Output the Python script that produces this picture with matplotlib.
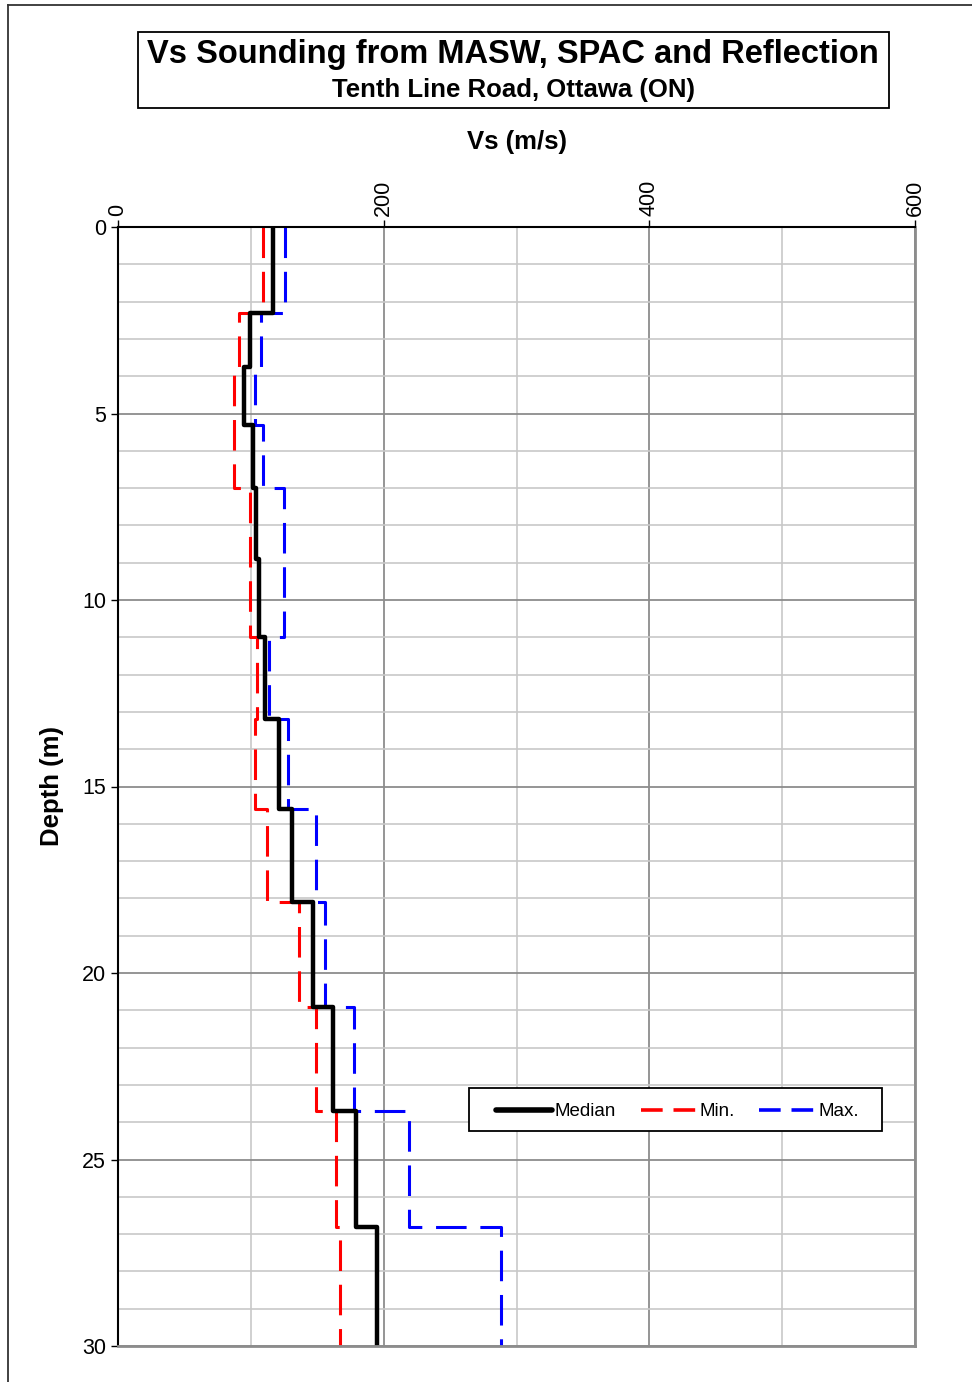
import matplotlib
matplotlib.use('Agg')
import matplotlib.pyplot as plt
import numpy as np
from matplotlib.lines import Line2D
from matplotlib.patches import Rectangle

plt.rcParams['font.family'] = ['Liberation Sans', 'DejaVu Sans']

# layer boundaries (m) and Vs per layer (m/s)
depth_bounds = [0, 2.3, 3.75, 5.3, 7.0, 8.9, 11.0, 13.2, 15.6, 18.1, 20.9, 23.7, 26.8, 30]
vs_median = [117, 99, 95, 102, 104, 106, 111, 121, 131, 147, 162, 179, 195]
vs_min = [109, 91, 87, 87, 99, 99, 105, 103, 112, 136, 149, 164, 167]
vs_max = [126, 108, 103, 109, 125, 125, 114, 128, 149, 156, 178, 219, 288]

x_ticks = [0, 200, 400, 600]
y_ticks = [0, 5, 10, 15, 20, 25, 30]


def profile(vs):
    # vertical step profile: constant Vs over each layer
    d = np.array(depth_bounds)
    x = np.repeat(vs, 2)
    y = np.column_stack([d[:-1], d[1:]]).ravel()
    return x, y


W, H = 972, 1382
fig = plt.figure(figsize=(W / 100, H / 100), dpi=100)
ax = fig.add_axes([118 / W, 1 - 1346 / H, (915 - 118) / W, (1346 - 227) / H])

ax.set_xlim(0, 600)
ax.set_ylim(30, 0)
ax.xaxis.tick_top()
ax.xaxis.set_label_position('top')
ax.set_xticks(x_ticks)
ax.set_xticklabels([str(t) for t in x_ticks], rotation=90)
ax.set_xticks(np.arange(0, 601, 100), minor=True)
ax.set_yticks(y_ticks)
ax.set_yticks(np.arange(0, 31, 1), minor=True)
ax.tick_params(axis='both', which='major', labelsize=15.5, length=5, width=1, direction='out', color='black')
ax.tick_params(axis='both', which='minor', length=0)
ax.tick_params(axis='x', pad=3)

ax.grid(which='major', color='#8c8c8c', linewidth=1.3)
ax.grid(which='minor', color='#c8c8c8', linewidth=1.2)
ax.set_axisbelow(True)

for s in ['left', 'top']:
    ax.spines[s].set_color('black')
    ax.spines[s].set_linewidth(1.5)
for s in ['right', 'bottom']:
    ax.spines[s].set_color('#8c8c8c')
    ax.spines[s].set_linewidth(2)

x, y = profile(vs_min)
ax.plot(x, y, color='red', lw=2.2, dashes=(10, 4.5), label='Min.')
x, y = profile(vs_max)
ax.plot(x, y, color='blue', lw=2.2, dashes=(10, 4.5), label='Max.')
x, y = profile(vs_median)
ax.plot(x, y, color='black', lw=3.2, solid_capstyle='butt', label='Median')

ax.set_xlabel('Vs (m/s)', fontsize=18.5, fontweight='bold', labelpad=22)
ax.set_ylabel('Depth (m)', fontsize=18.5, fontweight='bold', labelpad=13)

# legend: frame drawn separately so the margins match
lx0, lx1, ly0, ly1 = 469, 882, 1088, 1131
fig.patches.append(Rectangle((lx0 / W, 1 - ly1 / H), (lx1 - lx0) / W, (ly1 - ly0) / H,
                             transform=fig.transFigure, facecolor='white', edgecolor='black',
                             lw=1.3, zorder=5))
handles = [
    Line2D([], [], color='black', lw=4, solid_capstyle='round'),
    Line2D([], [], color='red', lw=2.6, dashes=(6, 3)),
    Line2D([], [], color='blue', lw=2.6, dashes=(6, 3)),
]
leg = fig.legend(handles, ['Median', 'Min.', 'Max.'], ncol=3, fontsize=13.5,
                 loc='center', bbox_to_anchor=((lx0 + lx1) / 2 / W + 2 / W, 1 - ((ly0 + ly1) / 2 + 2) / H),
                 frameon=False, handlelength=3.0, handletextpad=0.15, columnspacing=1.3,
                 borderpad=0, borderaxespad=0)
leg.set_zorder(6)

# title box
fig.patches.append(Rectangle((138 / W, 1 - 108 / H), (889 - 138) / W, (108 - 32) / H,
                             transform=fig.transFigure, fill=False, edgecolor='black', lw=1.3))
fig.text(513 / W, 1 - 55 / H, 'Vs Sounding from MASW, SPAC and Reflection', ha='center', va='center',
         fontsize=23.5, fontweight='bold')
fig.text(513 / W, 1 - 90 / H, 'Tenth Line Road, Ottawa (ON)', ha='center', va='center',
         fontsize=18.5, fontweight='bold')

# outer border (left and top)
fig.lines.append(Line2D([8 / W, 8 / W], [0, 1 - 5 / H], transform=fig.transFigure, color='#333333', lw=1.3))
fig.lines.append(Line2D([8 / W, 1], [1 - 5 / H, 1 - 5 / H], transform=fig.transFigure, color='#333333', lw=1.3))

fig.savefig('out.png', dpi=100)
